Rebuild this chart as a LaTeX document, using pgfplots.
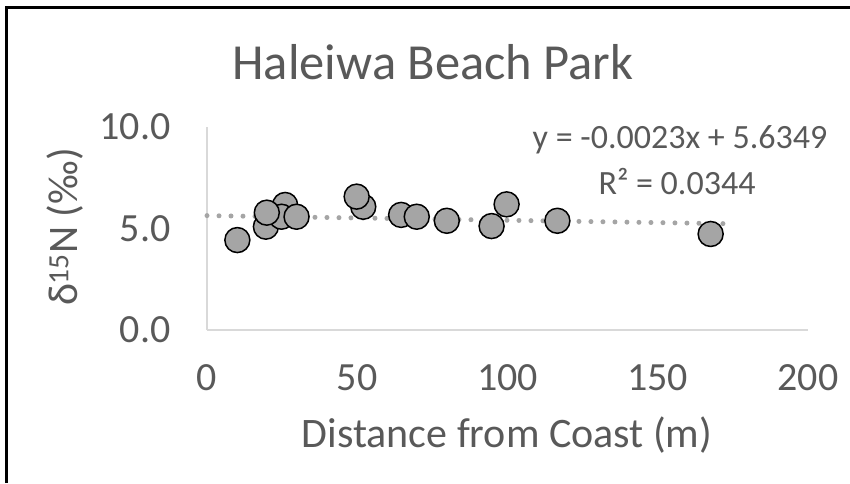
\documentclass[border=0pt]{standalone}
\usepackage{pgfplots}
\pgfplotsset{compat=1.18}
\usepackage{fontspec}
\setmainfont{Carlito}
\definecolor{txt}{HTML}{595959}
\definecolor{ax}{HTML}{D9D9D9}
\definecolor{mk}{HTML}{A5A5A5}
\begin{document}
\begin{tikzpicture}[x=1pt,y=1pt]
\useasboundingbox (0,0) rectangle (850,483);
\draw[line width=3pt, black] (6,0) -- (6,475) -- (850,475);
\begin{axis}[
  at={(207pt,153pt)}, anchor=south west,
  scale only axis, width=601pt, height=203pt,
  xmin=0, xmax=200, ymin=0, ymax=10,
  xtick={0,50,100,150,200}, ytick={0,5,10},
  axis lines=left,
  axis line style={ax, line width=1.5pt, -},
  major tick length=0pt,
  /pgf/number format/assume math mode=true,
  ticklabel style={font=\fontsize{40}{42}\selectfont, text=txt},
  yticklabel style={/pgf/number format/fixed, /pgf/number format/fixed zerofill, /pgf/number format/precision=1, xshift=-33pt},
  xticklabel style={yshift=-31pt},
  clip=false,
]
\addplot[mk, line width=5pt, line cap=round, dash pattern=on 0pt off 12pt] coordinates {(0,5.6349) (175,5.2324)};
\addplot[only marks, mark=*, mark size=12.5pt, mark options={fill=mk, draw=black, line width=1.5pt}] table {
x y
10.1 4.43
19.6 5.09
26.0 6.16
24.8 5.58
19.9 5.78
29.8 5.58
52.0 6.07
49.8 6.57
64.6 5.67
69.8 5.58
79.8 5.38
94.7 5.12
99.7 6.19
116.6 5.38
167.6 4.73
};
\end{axis}
\node[text=txt, font=\fontsize{50.5}{52}\selectfont] at (433,421) {Haleiwa Beach Park};
\node[text=txt, font=\fontsize{42}{44}\selectfont] at (507,48) {Distance from Coast (m)};
\node[text=txt, font=\fontsize{42}{44}\selectfont, rotate=90] at (65,256) {δ\textsuperscript{15}N (‰)};
\node[text=txt, font=\fontsize{34}{36}\selectfont] at (680,343) {y = -0.0023x + 5.6349};
\node[text=txt, font=\fontsize{34}{36}\selectfont] at (677,301) {R² = 0.0344};
\end{tikzpicture}
\end{document}
